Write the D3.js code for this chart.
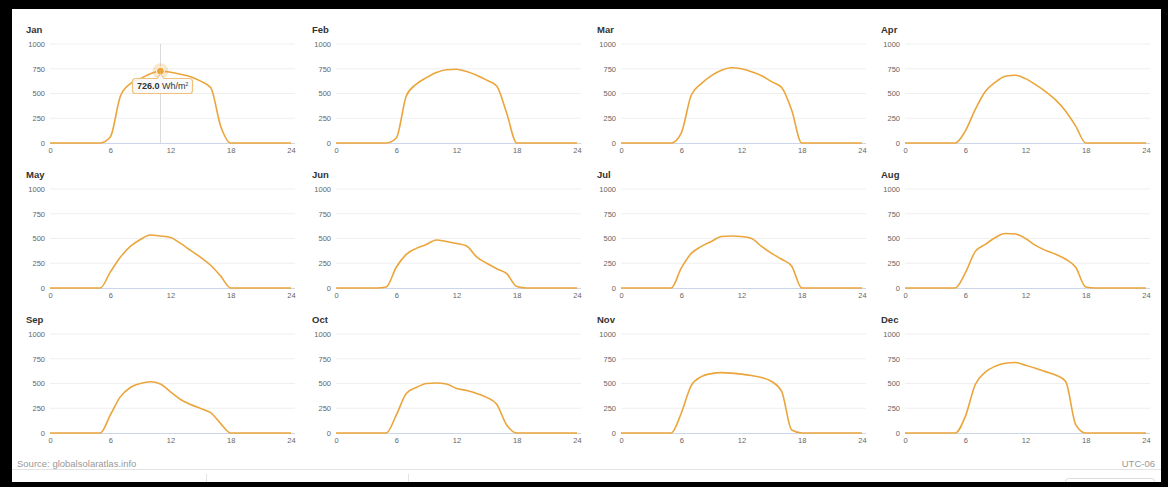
<!DOCTYPE html>
<html>
<head>
<meta charset="utf-8">
<script src="https://cdn.jsdelivr.net/npm/d3@7"></script>
<style>
  body { margin: 0; background: #000; }
  svg { display: block; font-family: "Liberation Sans", Arial, sans-serif; }
</style>
</head>
<body>
<div id="chart"></div>
<script>
const months = ['Jan', 'Feb', 'Mar', 'Apr', 'May', 'Jun', 'Jul', 'Aug', 'Sep', 'Oct', 'Nov', 'Dec'];
const hours = [0, 1, 2, 3, 4, 5, 6, 7, 8, 9, 10, 11, 12, 13, 14, 15, 16, 17, 18, 19, 20, 21, 22, 23, 24];
const xTicks = [0, 6, 12, 18, 24];
const yTicks = [0, 250, 500, 750, 1000];

// hourly PV output, Wh/m2
const jan = [0, 0, 0, 0, 0, 0, 60, 470, 600, 650, 700, 726, 715, 695, 670, 625, 560, 170, 0, 0, 0, 0, 0, 0, 0];
const feb = [0, 0, 0, 0, 0, 0, 50, 475, 595, 660, 712, 740, 745, 722, 685, 635, 575, 300, 0, 0, 0, 0, 0, 0, 0];
const mar = [0, 0, 0, 0, 0, 0, 100, 485, 600, 680, 735, 760, 750, 720, 680, 620, 560, 330, 0, 0, 0, 0, 0, 0, 0];
const apr = [0, 0, 0, 0, 0, 0, 120, 340, 520, 615, 675, 685, 650, 590, 520, 435, 320, 170, 0, 0, 0, 0, 0, 0, 0];
const may = [0, 0, 0, 0, 0, 0, 160, 310, 420, 490, 535, 525, 510, 450, 380, 310, 230, 120, 0, 0, 0, 0, 0, 0, 0];
const jun = [0, 0, 0, 0, 0, 10, 210, 340, 400, 440, 485, 470, 450, 425, 315, 250, 195, 145, 15, 0, 0, 0, 0, 0, 0];
const jul = [0, 0, 0, 0, 0, 0, 200, 350, 420, 470, 520, 525, 520, 500, 420, 350, 290, 220, 0, 0, 0, 0, 0, 0, 0];
const aug = [0, 0, 0, 0, 0, 0, 150, 370, 440, 510, 550, 545, 500, 430, 380, 340, 290, 210, 10, 0, 0, 0, 0, 0, 0];
const sep = [0, 0, 0, 0, 0, 0, 180, 365, 460, 500, 518, 495, 415, 338, 288, 247, 205, 95, 0, 0, 0, 0, 0, 0, 0];
const oct = [0, 0, 0, 0, 0, 0, 180, 400, 460, 500, 505, 495, 450, 430, 400, 360, 290, 80, 0, 0, 0, 0, 0, 0, 0];
const nov = [0, 0, 0, 0, 0, 0, 200, 480, 570, 600, 610, 605, 595, 580, 560, 520, 420, 30, 0, 0, 0, 0, 0, 0, 0];
const dec = [0, 0, 0, 0, 0, 0, 165, 490, 615, 675, 705, 712, 685, 655, 620, 585, 520, 85, 0, 0, 0, 0, 0, 0, 0];
const series = [jan, feb, mar, apr, may, jun, jul, aug, sep, oct, nov, dec];

const hoverMonth = 0;
const hoverIndex = 11;

const width = 1168;
const height = 487;
const lineColor = '#eba53b';

const svg = d3.select('#chart').append('svg')
    .attr('width', width)
    .attr('height', height);

svg.append('rect')
    .attr('x', 12).attr('y', 9)
    .attr('width', 1149).attr('height', 473)
    .attr('fill', '#fff');

const colX = [50, 336, 621, 905];
const rowY = [44, 189, 334];
const plotW = 241;
const plotH = 99;

const x = d3.scaleLinear().domain([0, 24]).range([0, plotW]);
const y = d3.scaleLinear().domain([0, 1000]).range([plotH, 0]);

const line = d3.line()
    .x((d, i) => x(hours[i]))
    .y((d) => y(d))
    .curve(d3.curveMonotoneX);

const panel = svg.selectAll('g.panel')
    .data(series)
    .join('g')
    .attr('class', 'panel')
    .attr('transform', (d, i) => `translate(${colX[i % 4]},${rowY[Math.floor(i / 4)]})`);

// grid + axes
panel.each(function () {
    const g = d3.select(this);
    g.selectAll('line.grid')
        .data(yTicks.filter((t) => t > 0))
        .join('line')
        .attr('x1', 0).attr('x2', plotW + 4)
        .attr('y1', (d) => y(d)).attr('y2', (d) => y(d))
        .attr('stroke', '#efefef');

    g.append('g')
        .call(d3.axisLeft(y).tickValues(yTicks).tickFormat(d3.format('d')).tickSize(0).tickPadding(5))
        .call((a) => a.select('.domain').remove())
        .call((a) => a.selectAll('text')
            .attr('fill', '#666')
            .style('font-size', '7.5px')
            .style('font-family', '"Liberation Sans", Arial, sans-serif'));

    g.append('g')
        .attr('transform', `translate(0,${plotH})`)
        .call(d3.axisBottom(x).tickValues(xTicks).tickSize(0).tickPadding(5))
        .call((a) => a.select('.domain')
            .attr('stroke', '#ccd6eb')
            .attr('d', `M0,0.5H${plotW + 4}`))
        .call((a) => a.selectAll('text')
            .attr('fill', '#666')
            .style('font-size', '7.5px')
            .style('font-family', '"Liberation Sans", Arial, sans-serif'));
});

panel.append('text')
    .attr('x', -24)
    .attr('y', -11)
    .attr('fill', '#333')
    .style('font-size', '9.5px')
    .style('font-weight', 'bold')
    .text((d, i) => months[i]);

// crosshair on hovered panel
const hover = panel.filter((d, i) => i === hoverMonth);
hover.append('line')
    .attr('x1', x(hours[hoverIndex])).attr('x2', x(hours[hoverIndex]))
    .attr('y1', 0).attr('y2', plotH)
    .attr('stroke', '#d9d9d9');

panel.append('path')
    .attr('d', (d) => line(d))
    .attr('fill', 'none')
    .attr('stroke', lineColor)
    .attr('stroke-width', 1.6);

const hx = x(hours[hoverIndex]);
const hy = y(series[hoverMonth][hoverIndex]);
hover.append('circle')
    .attr('cx', hx).attr('cy', hy).attr('r', 8)
    .attr('fill', lineColor).attr('fill-opacity', 0.25);
hover.append('circle')
    .attr('cx', hx).attr('cy', hy).attr('r', 4)
    .attr('fill', lineColor).attr('stroke', '#fff').attr('stroke-width', 1);

// tooltip
const tip = hover.append('g').attr('transform', `translate(${82},${34})`);
tip.append('path')
    .attr('d', 'M3.5,0.5 H25 L28.5,-4.5 L32,0.5 H57.5 Q60.5,0.5 60.5,3.5 V12.5 Q60.5,15.5 57.5,15.5 H3.5 Q0.5,15.5 0.5,12.5 V3.5 Q0.5,0.5 3.5,0.5 Z')
    .attr('fill', 'rgba(249,249,249,0.9)')
    .attr('stroke', '#efc27c')
    .attr('stroke-width', 1.2);
const tipText = tip.append('text')
    .attr('x', 5).attr('y', 11)
    .attr('fill', '#333')
    .style('font-size', '9px');
tipText.append('tspan').style('font-weight', 'bold')
    .text(series[hoverMonth][hoverIndex].toFixed(1));
tipText.append('tspan').text(' Wh/m');
tipText.append('tspan').attr('dy', -3).style('font-size', '5px').text('2');

// footer
svg.append('text')
    .attr('x', 17).attr('y', 467)
    .attr('fill', '#999')
    .style('font-size', '9.5px')
    .text('Source: globalsolaratlas.info');

svg.append('text')
    .attr('x', 1155).attr('y', 467)
    .attr('text-anchor', 'end')
    .attr('fill', '#999')
    .style('font-size', '9.5px')
    .text('UTC-06');

svg.append('line')
    .attr('x1', 12).attr('x2', 1161)
    .attr('y1', 469.5).attr('y2', 469.5)
    .attr('stroke', '#e3e3e3');

svg.selectAll('line.sep')
    .data([206, 408])
    .join('line')
    .attr('x1', (d) => d + 0.5).attr('x2', (d) => d + 0.5)
    .attr('y1', 474).attr('y2', 482)
    .attr('stroke', '#e3e3e3');

svg.append('rect')
    .attr('x', 1065.5).attr('y', 478.5)
    .attr('width', 89).attr('height', 10)
    .attr('rx', 3)
    .attr('fill', '#fff')
    .attr('stroke', '#ddd');

svg.append('rect')
    .attr('x', 0).attr('y', 482)
    .attr('width', width).attr('height', 5)
    .attr('fill', '#000');
</script>
</body>
</html>
